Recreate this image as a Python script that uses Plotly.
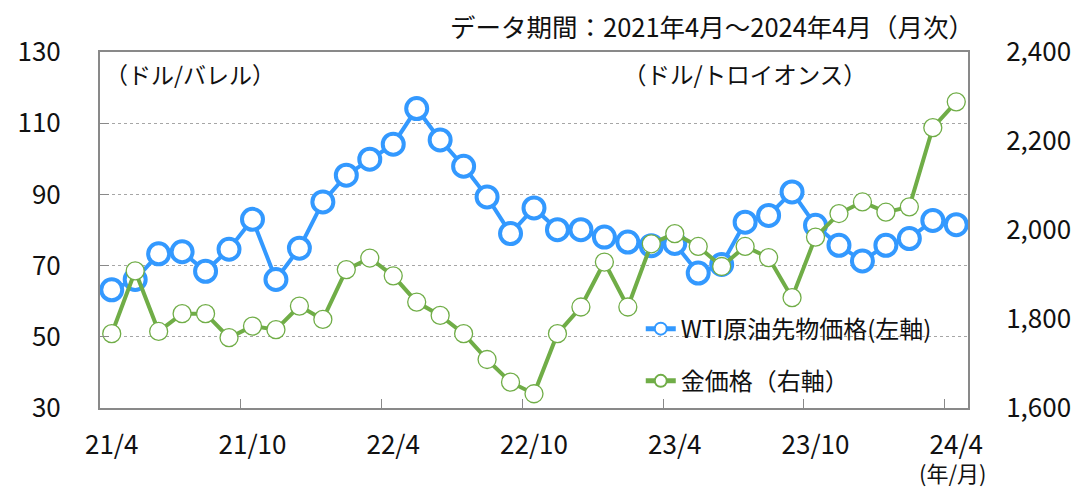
import plotly.graph_objects as go

months = list(range(37))
tick_pos = [0, 6, 12, 18, 24, 30, 36]
tick_labels = ["21/4", "21/10", "22/4", "22/10", "23/4", "23/10", "24/4"]
boundary_ticks = [5.5, 11.5, 17.5, 23.5, 29.5, 35.5]
left_inner_ticks = [50, 70, 90, 110]

wti = [63.2, 66.1, 73.3, 73.9, 68.4, 74.6, 83.0, 66.1, 74.9, 87.9, 95.4, 99.9,
       104.1, 114.1, 105.3, 97.9, 89.3, 79.0, 86.2, 80.1, 80.1, 78.0, 76.6, 75.6,
       76.2, 67.9, 70.3, 82.2, 84.1, 90.7, 81.3, 75.7, 71.3, 75.7, 77.6, 82.7, 81.5]

gold = [1767, 1908, 1772, 1812, 1812, 1758, 1784, 1776, 1829, 1799, 1911, 1937,
        1897, 1838, 1808, 1767, 1709, 1658, 1632, 1767, 1827, 1928, 1827, 1969,
        1992, 1963, 1918, 1963, 1938, 1848, 1984, 2037, 2063, 2040, 2052, 2230, 2288]

BLUE = "#3399FF"
GREEN = "#70AD47"
AXIS = "#898989"
FONT = "Noto Sans CJK JP"
CLEAR = "rgba(0,0,0,0)"

fig = go.Figure()
fig.add_trace(go.Scatter(
    x=months, y=wti, mode="lines+markers", name="WTI原油先物価格(左軸)",
    line=dict(color=BLUE, width=4),
    marker=dict(size=21, color="white", line=dict(color=BLUE, width=4)),
    legendgroup="a", yaxis="y"))
fig.add_trace(go.Scatter(
    x=months, y=gold, mode="lines+markers", name="金価格（右軸）",
    line=dict(color=GREEN, width=4),
    marker=dict(size=18, color="white", line=dict(color=GREEN, width=1.3)),
    legendgroup="b", yaxis="y2"))

fig.update_layout(
    width=1073, height=482,
    margin=dict(l=92, r=113, t=44, b=82, autoexpand=False),
    paper_bgcolor="white", plot_bgcolor="white",
    font=dict(family=FONT, size=26, color="#111111"),
    showlegend=True,
    legend=dict(x=0.623, y=0.285, xanchor="left", yanchor="top",
                bgcolor=CLEAR, font=dict(size=24),
                traceorder="grouped", tracegroupgap=18, itemsizing="constant"),
    xaxis=dict(range=[-0.5, 36.5], tickmode="array", tickvals=tick_pos,
               ticktext=tick_labels, ticks="outside", ticklen=13, tickcolor=CLEAR,
               showgrid=False, zeroline=False,
               showline=True, linecolor=AXIS, linewidth=2, mirror=True,
               automargin=False,
               minor=dict(tickmode="array", tickvals=boundary_ticks, ticks="inside",
                          ticklen=9, tickcolor=AXIS, tickwidth=1, showgrid=False)),
    yaxis=dict(range=[30, 130], dtick=20, tick0=30, showgrid=True,
               gridcolor="#A6A6A6", griddash="dot", gridwidth=1, zeroline=False,
               showline=True, linecolor=AXIS, linewidth=2, automargin=False,
               ticks="outside", ticklen=32, tickcolor=CLEAR,
               minor=dict(tickmode="array", tickvals=left_inner_ticks, ticks="inside",
                          ticklen=9, tickcolor=AXIS, tickwidth=1, showgrid=False)),
    yaxis2=dict(range=[1600, 2400], dtick=200, tick0=1600, overlaying="y",
                side="right", showgrid=False, zeroline=False, tickformat=",",
                showline=True, linecolor=AXIS, linewidth=2,
                ticks="outside", ticklen=31, tickcolor=CLEAR, automargin=False),
)

fig.add_annotation(text="データ期間：2021年4月～2024年4月（月次）", xref="paper", yref="paper",
                   x=1.008, y=1.074, xanchor="right", yanchor="middle", showarrow=False,
                   borderpad=0, font=dict(size=25.5))
fig.add_annotation(text="（ドル/バレル）", xref="paper", yref="paper",
                   x=0.004, y=0.937, xanchor="left", yanchor="middle", showarrow=False,
                   font=dict(size=23))
fig.add_annotation(text="（ドル/トロイオンス）", xref="paper", yref="paper",
                   x=0.6, y=0.937, xanchor="left", yanchor="middle", showarrow=False,
                   font=dict(size=23.5))
fig.add_annotation(text="(年/月)", xref="paper", yref="paper",
                   x=0.983, y=-0.18, xanchor="center", yanchor="middle", showarrow=False,
                   borderpad=0, font=dict(size=22))

fig.write_html("out.html")
